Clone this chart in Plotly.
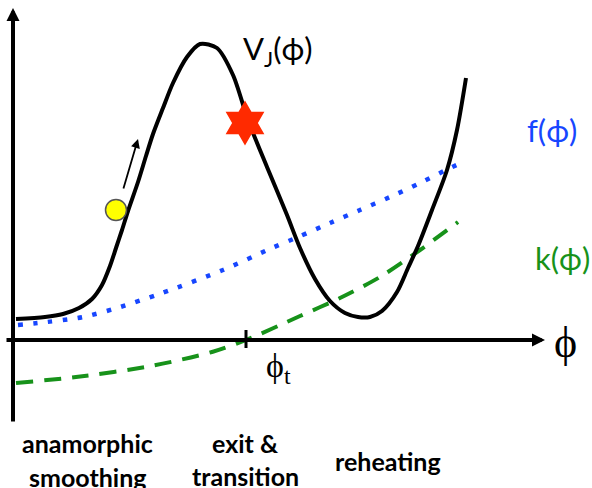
import plotly.graph_objects as go

# Chart coordinates: origin at the crossing of the two axes
V_x = [3, 32, 50, 66, 79, 89, 97, 103, 109, 115, 125, 133, 140, 150, 160, 174, 187, 204, 220, 235, 254, 274, 287, 302, 317, 332, 345, 357, 369, 384, 395, 405, 419, 434, 444, 453]
V_y = [21, 23, 26, 32, 41, 55, 74, 92, 110, 129, 158, 184, 206, 232, 257, 283, 296, 292, 265, 220, 173, 125, 92, 61, 39, 27, 23, 23, 29, 48, 72, 94, 130, 170, 210, 262]

f_x = [5, 25, 70, 104, 149, 210, 259, 285, 317, 347, 377, 407, 435, 450]
f_y = [15, 17, 23, 32, 47, 70, 92, 103, 117, 130, 143, 157, 171, 178]

k_x = [3, 63, 138, 199, 233, 287, 327, 367, 407, 445]
k_y = [-43, -37, -26, -12, 0, 24, 42, 63, 90, 118]

phi_t = 233
ball = (103, 130)
star = (232, 217)
push_tail = (110, 150)
push_head = (125, 201)

x_axis_span = (-8, 532)
y_axis_span = (-83, 332)

BLUE = "#1746FF"
GREEN = "#17921A"
SANS = "Lato, 'Open Sans', sans-serif"
SERIF = "'Liberation Serif', 'DejaVu Serif', serif"

fig = go.Figure()

fig.add_trace(go.Scatter(x=k_x, y=k_y, mode="lines",
                         line=dict(color=GREEN, width=4, dash="17px,11px", shape="spline", smoothing=0.8),
                         hoverinfo="skip"))
fig.add_trace(go.Scatter(x=f_x, y=f_y, mode="lines",
                         line=dict(color=BLUE, width=4.5, dash="4.5px,10.5px", shape="spline", smoothing=0.8),
                         hoverinfo="skip"))
fig.add_trace(go.Scatter(x=V_x, y=V_y, mode="lines",
                         line=dict(color="black", width=4, shape="spline", smoothing=0.8),
                         hoverinfo="skip"))
# tick at phi_t
fig.add_trace(go.Scatter(x=[phi_t, phi_t], y=[-8, 10], mode="lines",
                         line=dict(color="black", width=3), hoverinfo="skip"))
# ball
fig.add_trace(go.Scatter(x=[ball[0]], y=[ball[1]], mode="markers",
                         marker=dict(size=21, color="#FFFF00", line=dict(color="#555555", width=1.5)),
                         hoverinfo="skip"))
# star
fig.add_trace(go.Scatter(x=[star[0]], y=[star[1]], mode="markers",
                         marker=dict(size=34, symbol="hexagram", color="#FF2A00", line=dict(width=0)),
                         hoverinfo="skip"))

ann = []
# axes with arrowheads
ann.append(dict(x=x_axis_span[1], y=0, ax=x_axis_span[0], ay=0, xref="x", yref="y", axref="x", ayref="y",
                showarrow=True, arrowhead=2, arrowsize=0.65, arrowwidth=4, arrowcolor="black", text=""))
ann.append(dict(x=0, y=y_axis_span[1], ax=0, ay=y_axis_span[0], xref="x", yref="y", axref="x", ayref="y",
                showarrow=True, arrowhead=2, arrowsize=0.65, arrowwidth=4, arrowcolor="black", text=""))
# small push arrow
ann.append(dict(x=push_head[0], y=push_head[1], ax=push_tail[0], ay=push_tail[1], xref="x", yref="y",
                axref="x", ayref="y", showarrow=True, arrowhead=2, arrowsize=1, arrowwidth=1.8,
                arrowcolor="black", text=""))

def label(x, y, text, size, color="black", family=SANS, bold=False):
    t = f"<b>{text}</b>" if bold else text
    ann.append(dict(x=x, y=y, xref="x", yref="y", text=t, showarrow=False,
                    font=dict(size=size, color=color, family=family), xanchor="center", yanchor="middle"))

label(265, 290, "V<sub>J</sub>(ϕ)", 31)
label(539, 210, "f(ϕ)", 31, BLUE)
label(549, 82, "k(ϕ)", 31, GREEN)
label(552, -2, "ϕ", 44, family=SERIF)
label(265, -28, "ϕ<sub>t</sub>", 34, family=SERIF)
label(74, -103, "anamorphic", 25, bold=True)
label(74, -137, "smoothing", 25, bold=True)
label(232, -103, "exit &amp;", 25, bold=True)
label(232, -136, "transition", 25, bold=True)
label(375, -121, "reheating", 25, bold=True)

fig.update_layout(
    width=592, height=488,
    margin=dict(l=0, r=0, t=0, b=0),
    paper_bgcolor="white", plot_bgcolor="white",
    showlegend=False,
    xaxis=dict(range=[-13, 579], visible=False, fixedrange=True),
    yaxis=dict(range=[-148, 340], visible=False, fixedrange=True),
    annotations=ann,
)

fig.write_html("out.html", config={"displayModeBar": False, "staticPlot": True},
               post_script="document.body.style.margin='0';document.body.style.overflow='hidden';")
